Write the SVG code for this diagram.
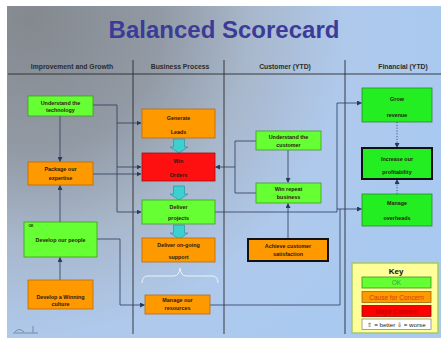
<svg xmlns="http://www.w3.org/2000/svg" width="447" height="338" viewBox="0 0 447 338">
  <defs>
    <radialGradient id="slideBg" gradientUnits="userSpaceOnUse" cx="30" cy="20" r="440">
      <stop offset="0" stop-color="#84898f"/>
      <stop offset="0.3" stop-color="#929aa5"/>
      <stop offset="0.5" stop-color="#a8b7cb"/>
      <stop offset="0.72" stop-color="#afc9ec"/>
      <stop offset="1" stop-color="#a9c9f1"/>
    </radialGradient>
    <marker id="arrow" markerUnits="userSpaceOnUse" markerWidth="5" markerHeight="5" refX="4.5" refY="2.5" orient="auto">
      <path d="M0,0 L5,2.5 L0,5 Z" fill="#2b3a5c"/>
    </marker>
    <!-- thick cyan flow arrow, origin at top centre -->
    <path id="blockArrow" d="M-5.5,0 H5.5 V8 H9 L0,14 L-9,8 H-5.5 Z"/>
    <style>
      .t { font-family: "Liberation Sans", Arial, sans-serif; font-weight: bold; font-size: 5.4px; fill: #2a1a10; text-anchor: middle; }
      .tiny { font-size: 3.5px; }
      .hdr { font-family: "Liberation Sans", Arial, sans-serif; font-weight: bold; font-size: 6.8px; fill: #2c2c2c; text-anchor: middle; }
      .lime { fill: #66ff33; stroke: #3f9a2a; stroke-width: 0.8; }
      .green { fill: #22ee22; stroke: #2a8a2a; stroke-width: 0.8; }
      .orange { fill: #ff9900; stroke: #b86a10; stroke-width: 0.8; }
      .red { fill: #ff1010; stroke: #a01010; stroke-width: 0.8; }
      .bold { stroke: #111; stroke-width: 2; }
      .conn { fill: none; stroke: #2b3a5c; stroke-width: 0.8; }
      .dot { stroke-dasharray: 1.2 1.6; }
      .divider { stroke: #2a2a2a; stroke-width: 0.9; }
      .flow { fill: #3cd0d0; stroke: #1f8f99; stroke-width: 0.6; }
    </style>
  </defs>

  <!-- page and slide background -->
  <rect width="447" height="338" fill="#ffffff"/>
  <rect x="7" y="6" width="434" height="332" fill="url(#slideBg)"/>

  <!-- title -->
  <text x="224" y="38" font-family="'Liberation Sans', Arial, sans-serif" font-weight="bold" font-size="24" fill="#3b3b98" text-anchor="middle">Balanced Scorecard</text>

  <!-- column headings and dividers -->
  <g id="columns">
    <text class="hdr" x="72" y="69">Improvement and Growth</text>
    <text class="hdr" x="180" y="69">Business Process</text>
    <text class="hdr" x="285" y="69">Customer (YTD)</text>
    <text class="hdr" x="403" y="69">Financial (YTD)</text>
    <line class="divider" x1="8" y1="74" x2="441" y2="74"/>
    <line class="divider" x1="133" y1="60" x2="133" y2="334"/>
    <line class="divider" x1="224" y1="60" x2="224" y2="334"/>
    <line class="divider" x1="345" y1="60" x2="345" y2="334"/>
  </g>

  <!-- connectors -->
  <g id="connectors">
    <path class="conn" d="M93,105 H117 V123 H141" marker-end="url(#arrow)"/>
    <path class="conn" d="M117,123 V167 H141" marker-end="url(#arrow)"/>
    <path class="conn" d="M117,167 V212 H141" marker-end="url(#arrow)"/>
    <path class="conn" d="M93,174 H141" marker-end="url(#arrow)"/>
    <path class="conn" d="M60,116 V161.5" marker-end="url(#arrow)"/>
    <path class="conn" d="M60,222 V185.5" marker-end="url(#arrow)"/>
    <path class="conn" d="M60,280 V257.5" marker-end="url(#arrow)"/>
    <path class="conn" d="M97,239 H120 V305 H144.5" marker-end="url(#arrow)"/>
    <path class="conn" d="M256,141 H235 V193 H256"/>
    <path class="conn" d="M235,167 H215.5" marker-end="url(#arrow)"/>
    <path class="conn" d="M288,150 V182.5" marker-end="url(#arrow)"/>
    <path class="conn" d="M288,239 V203.5" marker-end="url(#arrow)"/>
    <path class="conn" d="M215,212 H337 V103 H361.5" marker-end="url(#arrow)"/>
    <path class="conn" d="M337,209 H361.5" marker-end="url(#arrow)"/>
    <path class="conn" d="M210,305 H340 V209"/>
    <path class="conn dot" d="M397,122 V147.5" marker-end="url(#arrow)"/>
    <path class="conn dot" d="M397,194 V179.5" marker-end="url(#arrow)"/>
    <use href="#blockArrow" class="flow" x="179" y="139"/>
    <use href="#blockArrow" class="flow" x="179" y="186"/>
    <use href="#blockArrow" class="flow" x="179" y="225"/>
    <!-- brace grouping the two support activities -->
    <path d="M142,283 Q142,276 148,276 H174 Q179,276 180,268 Q181,276 186,276 H212 Q218,276 218,283" fill="none" stroke="#eef2f6" stroke-width="1"/>
  </g>

  <!-- Improvement and Growth -->
  <g id="understand-technology">
    <rect class="lime" x="28" y="96" width="65" height="20"/>
    <text class="t" x="60.5" y="104.5">Understand the</text>
    <text class="t" x="60.5" y="112">technology</text>
  </g>
  <g id="package-expertise">
    <rect class="orange" x="28" y="162" width="65" height="23"/>
    <text class="t" x="60.5" y="171">Package our</text>
    <text class="t" x="60.5" y="179.5">expertise</text>
  </g>
  <g id="develop-people">
    <rect class="lime" x="24" y="222" width="73" height="35"/>
    <text class="t tiny" x="31" y="226.5">OK</text>
    <text class="t" x="60.5" y="241.5">Develop our people</text>
  </g>
  <g id="develop-culture">
    <rect class="orange" x="28" y="280" width="65" height="29"/>
    <text class="t" x="60.5" y="299">Develop a Winning</text>
    <text class="t" x="60.5" y="306">culture</text>
  </g>

  <!-- Business Process -->
  <g id="generate-leads">
    <rect class="orange" x="142" y="109" width="73" height="29"/>
    <text class="t" x="178.5" y="119.5">Generate</text>
    <text class="t" x="178.5" y="133.5">Leads</text>
  </g>
  <g id="win-orders">
    <rect class="red" x="142" y="153" width="73" height="28"/>
    <text class="t" x="178.5" y="163">Win</text>
    <text class="t" x="178.5" y="177">Orders</text>
  </g>
  <g id="deliver-projects">
    <rect class="lime" x="142" y="200" width="73" height="24"/>
    <text class="t" x="178.5" y="209">Deliver</text>
    <text class="t" x="178.5" y="220">projects</text>
  </g>
  <g id="deliver-support">
    <rect class="orange" x="142" y="238" width="73" height="24"/>
    <text class="t" x="178.5" y="247">Deliver on-going</text>
    <text class="t" x="178.5" y="258.5">support</text>
  </g>
  <g id="manage-resources">
    <rect class="orange" x="145" y="295" width="65" height="19"/>
    <text class="t" x="177.5" y="302">Manage our</text>
    <text class="t" x="177.5" y="310">resources</text>
  </g>

  <!-- Customer -->
  <g id="understand-customer">
    <rect class="lime" x="256" y="131" width="65" height="19"/>
    <text class="t" x="288.5" y="139">Understand the</text>
    <text class="t" x="288.5" y="147">customer</text>
  </g>
  <g id="win-repeat">
    <rect class="lime" x="256" y="183" width="65" height="20"/>
    <text class="t" x="288.5" y="191">Win repeat</text>
    <text class="t" x="288.5" y="199">business</text>
  </g>
  <g id="customer-satisfaction">
    <rect class="orange bold" x="248" y="239" width="80" height="22"/>
    <text class="t" x="288" y="248">Achieve customer</text>
    <text class="t" x="288" y="255.5">satisfaction</text>
  </g>

  <!-- Financial -->
  <g id="grow-revenue">
    <rect class="green" x="362" y="88" width="70" height="34"/>
    <text class="t" x="397" y="101">Grow</text>
    <text class="t" x="397" y="116.5">revenue</text>
  </g>
  <g id="increase-profitability">
    <rect class="green bold" x="362" y="148" width="70" height="31"/>
    <text class="t" x="397" y="161">Increase our</text>
    <text class="t" x="397" y="173.5">profitability</text>
  </g>
  <g id="manage-overheads">
    <rect class="green" x="362" y="194" width="70" height="32"/>
    <text class="t" x="397" y="205">Manage</text>
    <text class="t" x="397" y="220">overheads</text>
  </g>

  <!-- key -->
  <g id="key" font-family="'Liberation Sans', Arial, sans-serif" text-anchor="middle">
    <rect x="352" y="263" width="86" height="70" fill="#ffff99" stroke="#a6c86a" stroke-width="1.5"/>
    <text x="396" y="273.5" font-size="8" font-weight="bold" fill="#111">Key</text>
    <rect x="362" y="277" width="69" height="11" fill="#66ff33" stroke="#3f8f20" stroke-width="0.8"/>
    <text x="396.5" y="285" font-size="6.5" fill="#2faa2f">OK</text>
    <rect x="362" y="291.5" width="69" height="11" fill="#ff9900" stroke="#9a6a10" stroke-width="0.8"/>
    <text x="396.5" y="299.5" font-size="6.5" fill="#d23a10">Cause for Concern</text>
    <rect x="362" y="305.5" width="69" height="11" fill="#ff0000" stroke="#8a1010" stroke-width="0.8"/>
    <text x="396.5" y="313.5" font-size="6.5" fill="#a80000">Major Concern</text>
    <rect x="362" y="319" width="69" height="10.5" fill="#ffffff" stroke="#8a8a8a" stroke-width="0.8"/>
    <text x="396.5" y="326.8" font-size="6.2" fill="#222">⇧ = better ⇩ = worse</text>
  </g>

  <!-- slide navigation mark, lower left -->
  <g id="nav-mark" fill="none" stroke="#6a7a90" stroke-width="0.8">
    <path d="M15,332 Q19,327 24,332"/>
    <path d="M33,326 V332.5"/>
    <path d="M13,333 H38"/>
  </g>
</svg>
